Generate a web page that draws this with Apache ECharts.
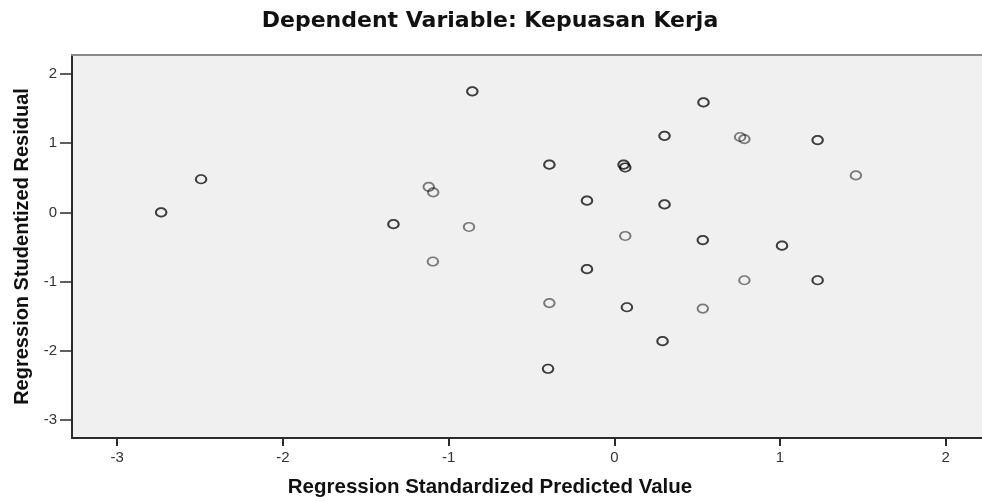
<!DOCTYPE html>
<html>
<head>
<meta charset="utf-8">
<title>Dependent Variable: Kepuasan Kerja</title>
<script src="https://cdn.jsdelivr.net/npm/echarts@6/dist/echarts.min.js"></script>
<style>
  html, body { margin: 0; padding: 0; background: #fff; }
  #chart { width: 982px; height: 501px; }
</style>
</head>
<body>
<div id="chart"></div>
<script>
// one entry per case; repeated pairs are cases that fall on the same spot
const predicted = [
  -2.735, -2.735, -2.494, -2.494, -1.333, -1.333, -1.12, -1.093, -1.095, -0.877,
  -0.857, -0.857, -0.392, -0.392, -0.392, -0.40, -0.40, -0.165, -0.165, -0.165,
  -0.165, 0.056, 0.056, 0.066, 0.066, 0.066, 0.076, 0.076, 0.291, 0.291,
  0.303, 0.303, 0.303, 0.303, 0.538, 0.538, 0.534, 0.534, 0.534, 0.759,
  0.785, 0.785, 1.012, 1.012, 1.227, 1.227, 1.227, 1.227, 1.458
];
const residual = [
  0.00, 0.00, 0.48, 0.48, -0.17, -0.17, 0.37, 0.29, -0.71, -0.21,
  1.75, 1.75, 0.69, 0.69, -1.31, -2.26, -2.26, 0.17, 0.17, -0.82,
  -0.82, 0.69, 0.69, 0.65, 0.65, -0.34, -1.37, -1.37, -1.86, -1.86,
  1.107, 1.107, 0.116, 0.116, 1.59, 1.59, -0.40, -0.40, -1.39, 1.09,
  1.06, -0.98, -0.48, -0.48, 1.045, 1.045, -0.98, -0.98, 0.535
];
const xTicks = [-3, -2, -1, 0, 1, 2];
const yTicks = [-3, -2, -1, 0, 1, 2];

const points = predicted.map((x, i) => [x, residual[i]]);

const chart = echarts.init(document.getElementById('chart'));

const tickFont = { color: '#333', fontSize: 15, fontFamily: 'Liberation Sans' };
const darkLine = { color: '#2b2b2b', width: 2 };

chart.setOption({
  animation: false,
  backgroundColor: '#fff',
  title: [
    {
      text: 'Dependent Variable: Kepuasan Kerja',
      left: 490, top: 10, textAlign: 'center', padding: 0,
      textStyle: { fontFamily: 'DejaVu Sans', fontWeight: 'bold', fontSize: 22, color: '#111' }
    },
    {
      text: 'Regression Standardized Predicted Value',
      left: 490, top: 477, textAlign: 'center', padding: 0,
      textStyle: { fontFamily: 'Liberation Sans', fontWeight: 'bold', fontSize: 20.5, color: '#111' }
    }
  ],
  grid: {
    left: 72, right: 0, top: 55, bottom: 63,
    show: true, backgroundColor: '#f0f0f0', borderWidth: 0,
    outerBoundsMode: 'none'
  },
  xAxis: [
    {
      type: 'value', min: -3.273, max: 2.219,
      axisLine: { onZero: false, lineStyle: darkLine },
      axisTick: { show: true, length: 8, customValues: xTicks, lineStyle: { color: '#2b2b2b', width: 2 } },
      axisLabel: { show: true, margin: 12, customValues: xTicks, ...tickFont },
      splitLine: { show: false }
    },
    {
      type: 'value', position: 'top', min: -3.273, max: 2.219,
      axisLine: { onZero: false, lineStyle: { color: '#8a8a8a', width: 2 } },
      axisTick: { show: false }, axisLabel: { show: false }, splitLine: { show: false }
    }
  ],
  yAxis: {
    type: 'value', min: -3.26, max: 2.275,
    name: 'Regression Studentized Residual',
    nameLocation: 'middle', nameGap: 40,
    nameTextStyle: { fontFamily: 'Liberation Sans', fontWeight: 'bold', fontSize: 20, color: '#111' },
    axisLine: { show: true, onZero: false, lineStyle: darkLine },
    axisTick: { show: true, length: 12, customValues: yTicks, lineStyle: { color: '#2b2b2b', width: 1.5 } },
    axisLabel: { show: true, margin: 15, customValues: yTicks, ...tickFont },
    splitLine: { show: false }
  },
  series: [{
    type: 'scatter',
    data: points,
    symbol: 'path://M50,0A50,50,0,1,1,50,100A50,50,0,1,1,50,0Z',
    symbolSize: [10.5, 8.5],
    itemStyle: { color: 'transparent', borderColor: 'rgba(0,0,0,0.62)', borderWidth: 1.8 },
    emphasis: { disabled: true },
    silent: true
  }]
});
</script>
</body>
</html>
